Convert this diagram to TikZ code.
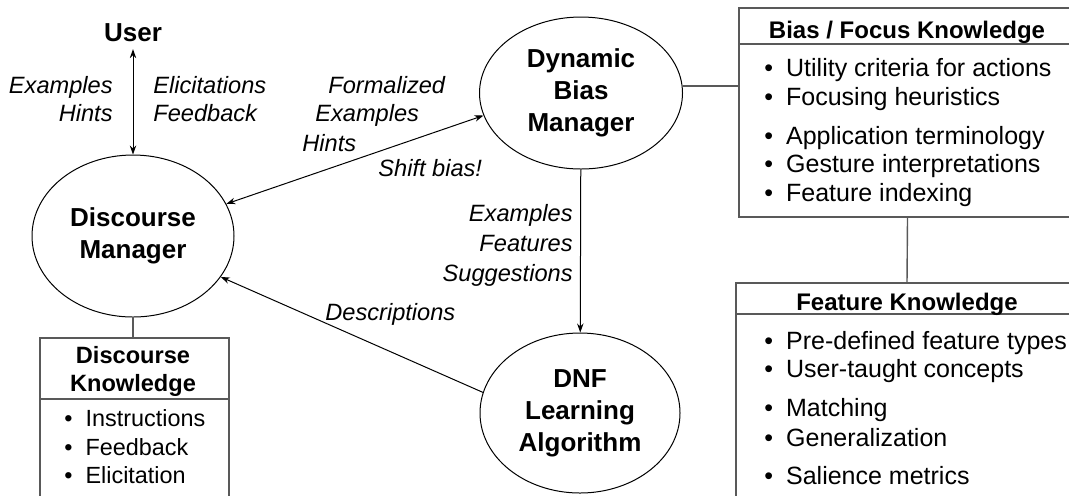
\documentclass[tikz,border=0pt]{standalone}
\usepackage{fontspec}
\setmainfont{Liberation Sans}
\usetikzlibrary{shapes.geometric,arrows.meta}

\begin{document}
\begin{tikzpicture}[x=0.5pt,y=-0.5pt,
		>={Stealth[length=4.5pt,width=3.2pt]},
		manager/.style={ellipse, draw, line width=0.5pt, inner sep=0pt, align=center,
			font=\fontsize{13}{16}\selectfont\bfseries},
		kbox/.style={rectangle, draw=black!65, line width=0.7pt, inner sep=0pt},
		boxline/.style={draw=black!65, line width=0.7pt},
		boxhead/.style={inner sep=0pt, anchor=base, font=\fontsize{12}{14}\selectfont\bfseries},
		item/.style={inner sep=0pt, anchor=base west, font=\fontsize{12.5}{14}\selectfont},
		flow/.style={inner sep=0pt, font=\fontsize{11.8}{14}\selectfont\itshape}]
			\useasboundingbox (0,0) rectangle (1069,495);
			\clip (0,0) rectangle (1069,495);

			% the three agents
			\node[font=\fontsize{13}{16}\selectfont\bfseries] (user) at (133,33) {User};
			\node[manager, minimum width=101pt, minimum height=81pt] (dm) at (133,236) {Discourse\\Manager};
			\node[manager, minimum width=101.5pt, minimum height=76pt] (dbm) at (581,93) {Dynamic\\Bias\\Manager};
			\node[manager, minimum width=100pt, minimum height=80pt] (dnf) at (580,413) {DNF\\Learning\\Algorithm};

			% knowledge stores (they run off the page)
			\node[kbox, minimum width=168.5pt, minimum height=104.5pt] (biasbox) at (907.5,112.5) {};
			\node[kbox, minimum width=171pt, minimum height=138.5pt] (featbox) at (907,421.5) {};
			\node[kbox, minimum width=94.5pt, minimum height=111pt] (dkbox) at (134.5,449) {};
			\draw[boxline] (biasbox.west |- 0,44) -- (biasbox.east |- 0,44);
			\draw[boxline] (featbox.west |- 0,314) -- (featbox.east |- 0,314);
			\draw[boxline] (dkbox.west |- 0,399) -- (dkbox.east |- 0,399);

			\node[boxhead] (biashead) at (907,38) {Bias / Focus Knowledge};
			\node[boxhead] (feathead) at (907,310) {Feature Knowledge};
			\node[boxhead, anchor=center, align=center, font=\fontsize{11.8}{14}\selectfont\bfseries] (dkhead) at (133,371) {Discourse\\Knowledge};

			\foreach \t/\y [count=\i] in {Utility criteria for actions/76, Focusing heuristics/105,
					Application terminology/144, Gesture interpretations/172, Feature indexing/201}
				\node[item] (bias\i) at (764,\y) {\textbullet\hspace{6.5pt}\t};
			\foreach \t/\y [count=\i] in {Pre-defined feature types/349, User-taught concepts/377,
					Matching/416, Generalization/446, Salience metrics/484}
				\node[item] (feat\i) at (764,\y) {\textbullet\hspace{6.5pt}\t};
			\foreach \t/\y [count=\i] in {Instructions/426, Feedback/455, Elicitation/483}
				\node[item, font=\fontsize{11.7}{14}\selectfont] (dk\i) at (64,\y) {\textbullet\hspace{6.5pt}\t};

			% links to the stores
			\draw[boxline] (dbm.4) -- (dbm.4 -| biasbox.west);
			\draw[boxline] (biasbox.south) -- (featbox.north);
			\draw[boxline] (dm.south) -- (dm.south |- dkbox.north);

			% message flow
			\draw[<->, line width=0.5pt] (user) -- (dm);
			\draw[<->, line width=0.5pt] (dm.19) -- (dbm.193);
			\draw[->, line width=0.5pt] (dbm) -- (dnf);
			\draw[->, line width=0.5pt] (dnf.168) -- (dm.335);

			\node[flow, anchor=east, align=right] (userin) at (113,99) {Examples\\Hints};
			\node[flow, anchor=west, align=left] (userout) at (153,99) {Elicitations\\Feedback};
			\node[flow, anchor=base west] (formal1) at (328,93.5) {Formalized};
			\node[flow, anchor=base west] (formal2) at (315,121.5) {Examples};
			\node[flow, anchor=base west] (formal3) at (302,151.5) {Hints};
			\node[flow, anchor=base west] (shift) at (378,176.5) {Shift bias!};
			\node[flow, anchor=east, align=right, font=\fontsize{11.8}{15}\selectfont\itshape] (learnin) at (573,245) {Examples\\Features\\Suggestions};
			\node[flow, anchor=base west] (descr) at (325,320.5) {Descriptions};
		\end{tikzpicture}
\end{document}
